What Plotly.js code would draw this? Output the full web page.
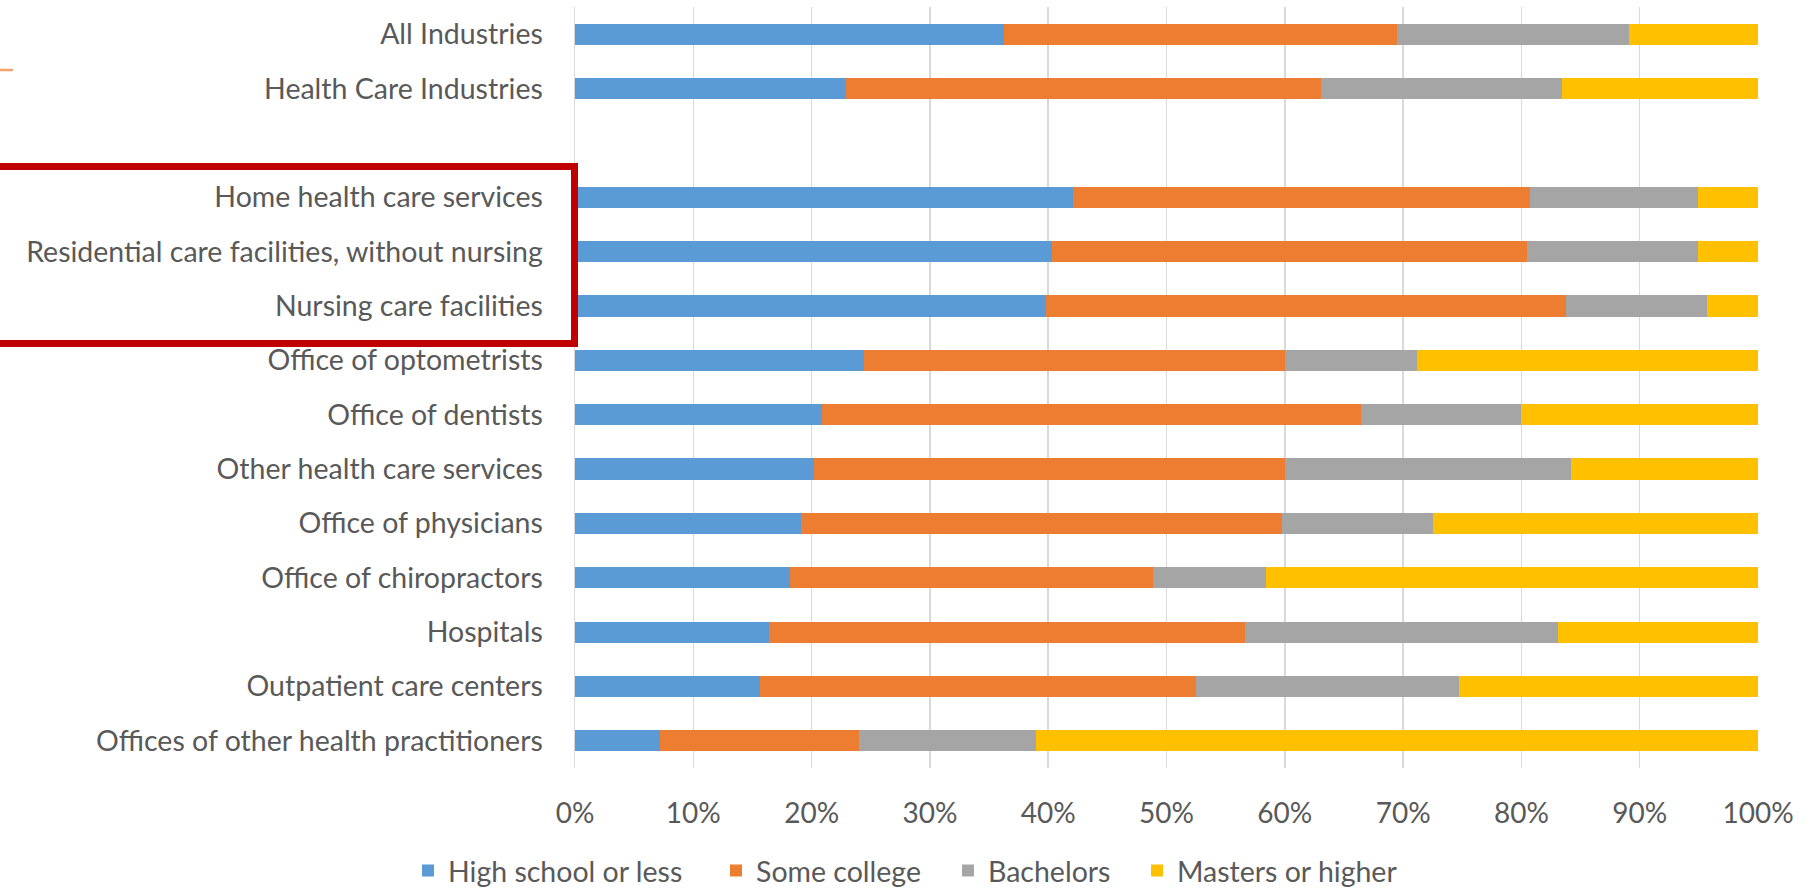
<!DOCTYPE html>
<html>
<head>
<meta charset="utf-8">
<script src="https://cdn.plot.ly/plotly-3.0.1.min.js"></script>
<style>
html,body{margin:0;padding:0;background:#fff;}
#chart{width:1810px;height:892px;}
</style>
</head>
<body>
<div id="chart"></div>
<script>
const categories = [
  "All Industries",
  "Health Care Industries",
  " ",
  "Home health care services",
  "Residential care facilities, without nursing",
  "Nursing care facilities",
  "Office of optometrists",
  "Office of dentists",
  "Other health care services",
  "Office of physicians",
  "Office of chiropractors",
  "Hospitals",
  "Outpatient care centers",
  "Offices of other health practitioners"
];
const seriesNames = ["High school or less", "Some college", "Bachelors", "Masters or higher"];
const highSchool  = [36.3, 22.9, null, 42.1, 40.3, 39.8, 24.4, 20.9, 20.2, 19.1, 18.2, 16.4, 15.6, 7.2];
const someCollege = [33.2, 40.2, null, 38.6, 40.2, 44.0, 35.6, 45.5, 39.8, 40.7, 30.7, 40.2, 36.9, 16.8];
const bachelors   = [19.6, 20.3, null, 14.2, 14.4, 11.9, 11.2, 13.6, 24.2, 12.7,  9.5, 26.5, 22.2, 15.0];
const masters     = [10.9, 16.6, null,  5.1,  5.1,  4.3, 28.8, 20.0, 15.8, 27.5, 41.6, 16.9, 25.3, 61.0];
const tickValues  = [0, 10, 20, 30, 40, 50, 60, 70, 80, 90, 100];
const tickLabels  = ["0%", "10%", "20%", "30%", "40%", "50%", "60%", "70%", "80%", "90%", "100%"];

const colors = ["#5B9BD5", "#ED7D31", "#A5A5A5", "#FFC000"];
const seriesValues = [highSchool, someCollege, bachelors, masters];
const legendIds = ["legend", "legend2", "legend3", "legend4"];

const FONT = "Lato, 'Open Sans', sans-serif";
const TXT = "#595959";

const traces = seriesValues.map((vals, i) => ({
  type: "bar",
  orientation: "h",
  name: seriesNames[i],
  y: categories,
  x: vals,
  legend: legendIds[i],
  marker: {color: colors[i], line: {width: 0}},
  hoverinfo: "x+y+name"
}));

// plot area geometry (pixels) used only for placing the box and legends
const W = 1810, H = 892;
const mL = 575, mR = 52, mT = 7, mB = 124;
const pw = W - mL - mR, ph = H - mT - mB;
const px = x => (x - mL) / pw;
const py = y => (H - mB - y) / ph;

const legendSquareLeft = [422, 730, 962, 1151];
const legendBase = {
  orientation: "h",
  xanchor: "left",
  yanchor: "middle",
  y: py(871),
  font: {family: FONT, size: 28.5, color: TXT},
  itemwidth: 30,
  bgcolor: "rgba(0,0,0,0)",
  borderwidth: 0
};

const layout = {
  width: W, height: H,
  margin: {l: mL, r: mR, t: mT, b: mB, pad: 0, autoexpand: false},
  paper_bgcolor: "#ffffff",
  plot_bgcolor: "#ffffff",
  barmode: "stack",
  bargap: 0.61,
  font: {family: FONT, size: 29, color: TXT},
  xaxis: {
    range: [0, 100],
    tickmode: "array",
    tickvals: tickValues,
    ticktext: tickLabels,
    showgrid: true,
    gridcolor: "#D9D9D9",
    gridwidth: 1.5,
    zeroline: false,
    showline: false,
    ticks: "",
    ticklabelstandoff: 26,
    tickfont: {family: FONT, size: 28, color: TXT},
    automargin: false,
    fixedrange: true
  },
  yaxis: {
    type: "category",
    categoryorder: "array",
    categoryarray: categories,
    autorange: "reversed",
    showgrid: false,
    zeroline: false,
    showline: true,
    linecolor: "#D9D9D9",
    linewidth: 1.5,
    ticks: "",
    ticklabelstandoff: 25,
    tickfont: {family: FONT, size: 28.5, color: TXT},
    automargin: false,
    fixedrange: true
  },
  showlegend: true,
  shapes: [
    {
      type: "rect", xref: "paper", yref: "paper",
      x0: px(-20), x1: px(574.5), y0: py(166.5), y1: py(343.5),
      line: {color: "#C00000", width: 7},
      fillcolor: "rgba(0,0,0,0)"
    },
    {
      type: "line", xref: "paper", yref: "paper",
      x0: px(0), x1: px(13), y0: py(70), y1: py(70),
      line: {color: "#F2A36B", width: 2.5}
    }
  ]
};
legendIds.forEach((id, i) => {
  layout[id] = Object.assign({}, legendBase, {x: px(legendSquareLeft[i] - 14)});
});

Plotly.newPlot("chart", traces, layout, {displayModeBar: false, staticPlot: true});
</script>
</body>
</html>
